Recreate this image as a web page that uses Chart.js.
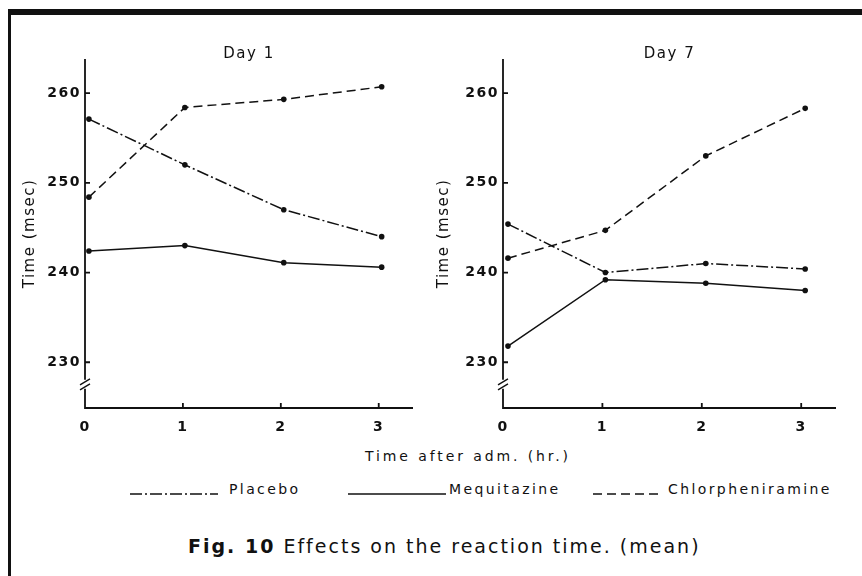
<!DOCTYPE html>
<html>
<head>
<meta charset="utf-8">
<script src="https://cdn.jsdelivr.net/npm/chart.js@4.4.1/dist/chart.umd.min.js"></script>
<style>
  html, body { margin: 0; padding: 0; background: #fff; }
  body { width: 862px; height: 576px; position: relative; overflow: hidden; font-family: 'DejaVu Sans', sans-serif; color: #111; }
  canvas { position: absolute; top: 0; }
  #day1 { left: 0; }
  #day7 { left: 431px; }
  .frameTop { position: absolute; left: 8px; top: 9px; width: 854px; height: 6px; background: #111; }
  .frameLeft { position: absolute; left: 8px; top: 9px; width: 3px; height: 567px; background: #111; }
  .xtitle { position: absolute; left: 365px; top: 448px; font-size: 14px; letter-spacing: 2.9px; white-space: nowrap; }
  .legend { position: absolute; top: 481px; font-size: 14px; letter-spacing: 2.4px; white-space: nowrap; }
  .caption { position: absolute; left: 188px; top: 535px; font-size: 19px; letter-spacing: 2px; white-space: nowrap; }
</style>
</head>
<body>
<div class="frameTop"></div>
<div class="frameLeft"></div>
<canvas id="day1" width="431" height="440"></canvas>
<canvas id="day7" width="431" height="440"></canvas>
<div class="xtitle">Time after adm. (hr.)</div>
<svg width="862" height="20" style="position:absolute;left:0;top:484px">
  <line x1="130" y1="10" x2="218" y2="10" stroke="#111" stroke-width="1.4" stroke-dasharray="12,3,2,3"/>
  <line x1="348" y1="10" x2="446" y2="10" stroke="#111" stroke-width="1.4"/>
  <line x1="593" y1="10" x2="662" y2="10" stroke="#111" stroke-width="1.4" stroke-dasharray="9,5"/>
</svg>
<div class="legend" style="left:229px">Placebo</div>
<div class="legend" style="left:449px">Mequitazine</div>
<div class="legend" style="left:668px">Chlorpheniramine</div>
<div class="caption"><b>Fig. 10</b> Effects on the reaction time. (mean)</div>

<script>
// hours after administration (axis ticks) and reaction time ticks
const hours = [0, 1, 2, 3];
const yTicks = [230, 240, 250, 260];

const day1Times = [0.04, 1.02, 2.03, 3.03];
const day1Placebo = [257.1, 252.0, 247.0, 244.0];
const day1Mequitazine = [242.4, 243.0, 241.1, 240.6];
const day1Chlorpheniramine = [248.4, 258.4, 259.3, 260.7];

// Day 7
const day7Times = [0.05, 1.03, 2.04, 3.04];
const day7Placebo = [245.4, 240.0, 241.0, 240.4];
const day7Mequitazine = [231.8, 239.2, 238.8, 238.0];
const day7Chlorpheniramine = [241.6, 244.7, 253.0, 258.3];

const ink = '#111';
const breakValue = 227.6;

// wide-set lettering like the printed figure
const spacedText = {
  id: 'spacedText',
  beforeDraw(chart) { chart.ctx.letterSpacing = '1.5px'; },
  afterDraw(chart) { chart.ctx.letterSpacing = '0px'; },
};

// axes drawn by hand: inward ticks and a broken y axis
const brokenAxes = {
  id: 'brokenAxes',
  afterDraw(chart) {
    const { ctx, chartArea, scales } = chart;
    const x0 = scales.x.getPixelForValue(0);
    const yb = scales.y.getPixelForValue(breakValue);
    const bottom = chartArea.bottom;
    ctx.save();
    ctx.strokeStyle = ink;
    ctx.lineWidth = 1.8;
    ctx.beginPath();
    ctx.moveTo(x0, chartArea.top);
    ctx.lineTo(x0, yb - 4);
    ctx.moveTo(x0, yb + 5);
    ctx.lineTo(x0, bottom);
    ctx.lineTo(chartArea.right, bottom);
    yTicks.forEach((v) => {
      const py = scales.y.getPixelForValue(v);
      ctx.moveTo(x0, py);
      ctx.lineTo(x0 + 5, py);
    });
    hours.forEach((h) => {
      const px = scales.x.getPixelForValue(h);
      ctx.moveTo(px, bottom);
      ctx.lineTo(px, bottom - 5);
    });
    ctx.stroke();
    ctx.lineWidth = 1.4;
    ctx.beginPath();
    ctx.moveTo(x0 - 5, yb + 1);
    ctx.lineTo(x0 + 5, yb - 5);
    ctx.moveTo(x0 - 5, yb + 6);
    ctx.lineTo(x0 + 5, yb);
    ctx.stroke();
    ctx.restore();
  },
};

function series(times, values, dash) {
  return {
    data: times.map((t, i) => ({ x: t, y: values[i] })),
    borderColor: ink,
    backgroundColor: ink,
    borderWidth: 1.5,
    borderDash: dash,
    pointRadius: 2.8,
    pointHoverRadius: 2.8,
    pointBorderWidth: 0,
    tension: 0,
  };
}

function makePanel(id, title, times, placebo, mequitazine, chlorpheniramine, pad) {
  const ctx = document.getElementById(id).getContext('2d');
  return new Chart(ctx, {
    type: 'line',
    data: {
      datasets: [
        series(times, placebo, [12, 3, 2, 3]),
        series(times, mequitazine, []),
        series(times, chlorpheniramine, [9, 5]),
      ],
    },
    options: {
      responsive: false,
      animation: false,
      layout: { padding: { left: pad.left, right: pad.right, top: 41, bottom: 2 } },
      plugins: {
        legend: { display: false },
        tooltip: { enabled: false },
        title: {
          display: true,
          text: title,
          fullSize: false,
          color: ink,
          font: { family: 'DejaVu Sans', size: 15, weight: 'normal' },
          padding: { top: 4, bottom: -4 },
        },
      },
      scales: {
        x: {
          type: 'linear',
          min: 0,
          max: 3.35,
          grid: { display: false, drawTicks: false },
          border: { display: false },
          afterBuildTicks: (scale) => { scale.ticks = hours.map((v) => ({ value: v })); },
          afterFit: (scale) => { scale.height = 30; },
          ticks: { color: ink, padding: 11, font: { family: 'DejaVu Sans', size: 14, weight: 'bold' } },
        },
        y: {
          min: 224.9,
          max: 263.8,
          grid: { display: false, drawTicks: false },
          border: { display: false },
          afterBuildTicks: (scale) => { scale.ticks = yTicks.map((v) => ({ value: v })); },
          afterFit: (scale) => { scale.width = pad.axis; },
          ticks: { color: ink, padding: 4, font: { family: 'DejaVu Sans', size: 14, weight: 'bold' } },
          title: {
            display: true,
            text: 'Time (msec)',
            color: ink,
            font: { family: 'DejaVu Sans', size: 15 },
            padding: { top: pad.titleTop, bottom: 0 },
          },
        },
      },
    },
    plugins: [spacedText, brokenAxes],
  });
}

makePanel('day1', 'Day 1', day1Times, day1Placebo, day1Mequitazine, day1Chlorpheniramine,
  { left: 14, right: 18, axis: 71, titleTop: 7 });
makePanel('day7', 'Day 7', day7Times, day7Placebo, day7Mequitazine, day7Chlorpheniramine,
  { left: 0, right: 26, axis: 72, titleTop: 4 });
</script>
</body>
</html>
